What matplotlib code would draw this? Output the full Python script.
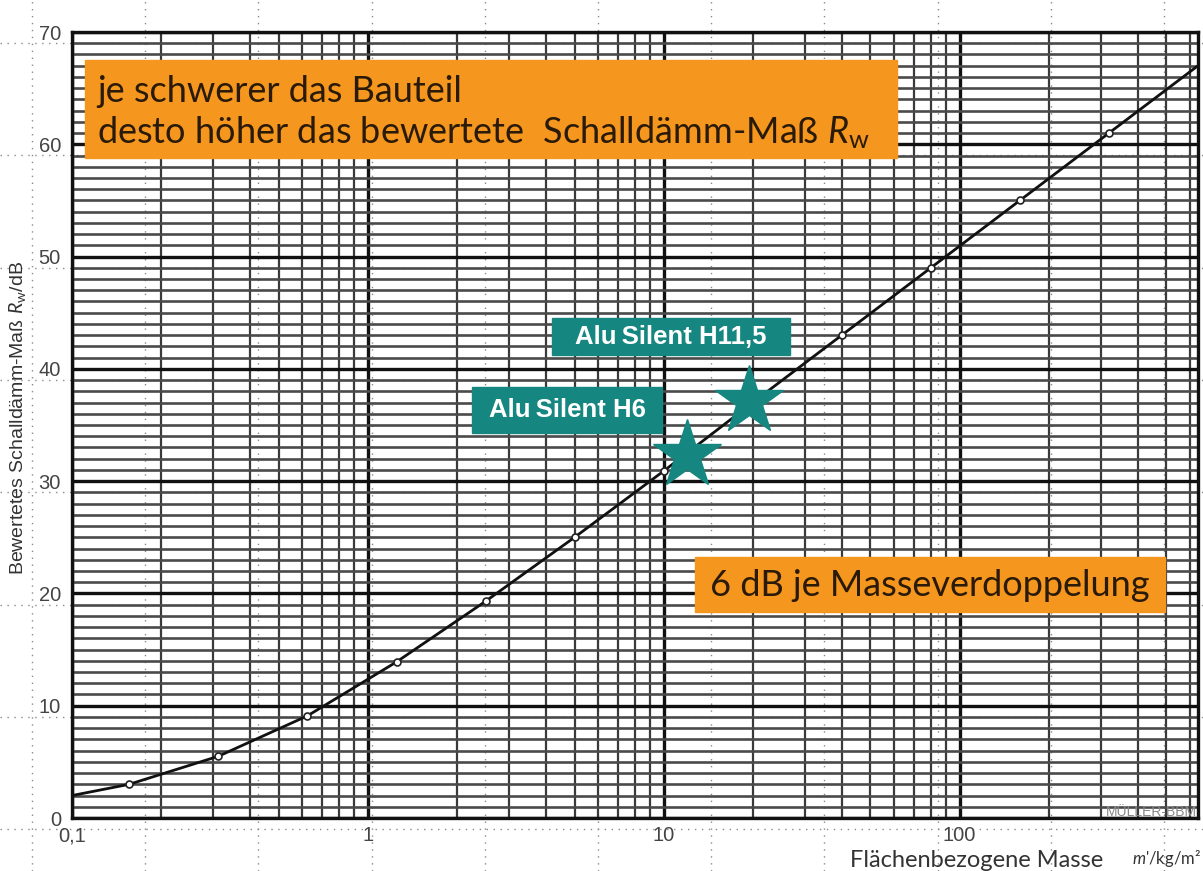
import numpy as np
import matplotlib
matplotlib.use("Agg")
import matplotlib.pyplot as plt
from matplotlib.patches import Rectangle
from matplotlib.lines import Line2D

# Kurve: flächenbezogene Masse m' (kg/m²) -> bewertetes Schalldämm-Maß Rw (dB)
masse = [0.1, 0.156, 0.3125, 0.625, 1.25, 2.5, 5, 10, 20, 40, 80, 160, 320, 640]
rw = [2.0, 3.0, 5.5, 9.1, 13.9, 19.3, 25.0, 30.9, 37.0, 43.0, 49.0, 55.0, 61.0, 67.0]
# Messpunkte (Kreise)
punkt_masse = masse[1:-1]
punkt_rw = rw[1:-1]

# Produkte
produkte = ["Alu\u2009Silent H6", "Alu\u2009Silent H11,5"]
produkt_masse = [12.0, 19.5]
produkt_rw = [32.3, 37.1]

y_ticks = [0, 10, 20, 30, 40, 50, 60, 70]
x_ticks = [0.1, 1, 10, 100]
x_ticklabels = ["0,1", "1", "10", "100"]

W, H = 1203, 871
ORANGE = "#f5961e"
TEAL = "#168680"
TXT = "#2a1a08"

plt.rcParams["mathtext.fontset"] = "custom"
plt.rcParams["mathtext.rm"] = "Lato"
plt.rcParams["mathtext.it"] = "Lato:italic"

fig = plt.figure(figsize=(W / 100, H / 100), dpi=100)


def fx(x):
    return x / W


def fy(y):
    return 1 - y / H


# gepunktetes Hintergrundraster (aus dem Screenshot)
for gx in np.arange(32, W, 113.2):
    fig.add_artist(Line2D([fx(gx), fx(gx)], [0, 1], color="#8a8a8a", lw=1.0,
                          ls=(0, (1, 4)), zorder=0))
for gy in np.arange(43, H, 112.3):
    fig.add_artist(Line2D([0, 1], [fy(gy), fy(gy)], color="#8a8a8a", lw=1.0,
                          ls=(0, (1, 4)), zorder=0))

ax = fig.add_axes([fx(72), fy(818), fx(1198) - fx(72), fy(32) - fy(818)])
ax.patch.set_alpha(0)
ax.set_xscale("log")
ax.set_xlim(0.1, 640)
ax.set_ylim(0, 70)

# Raster
for dec in [0.1, 1, 10, 100]:
    for k in range(1, 10):
        v = dec * k
        if v > 640:
            break
        if k == 1:
            ax.axvline(v, color="#111111", lw=2.4, zorder=1)
        else:
            ax.axvline(v, color="#3a3a3a", lw=1.6, zorder=1)
for v in range(0, 71):
    if v % 10 == 0:
        ax.axhline(v, color="#111111", lw=2.4, zorder=1)
    else:
        ax.axhline(v, color="#4a4a4a", lw=1.9, zorder=1)

for s in ax.spines.values():
    s.set_linewidth(2.4)
    s.set_color("#111111")

ax.plot(masse, rw, color="#111111", lw=2.0, zorder=3)
ax.plot(punkt_masse, punkt_rw, "o", ms=5, mfc="white", mec="#222222", mew=1.2, zorder=4)
ax.plot(produkt_masse, produkt_rw, "*", ms=52, color=TEAL, mec=TEAL, zorder=5)

ax.set_xticks(x_ticks)
ax.set_xticklabels(x_ticklabels)
ax.set_xticks([], minor=True)
ax.set_yticks(y_ticks)
ax.tick_params(length=0, labelsize=14.5, colors="#444444")
for lab in ax.get_xticklabels() + ax.get_yticklabels():
    lab.set_fontfamily("Liberation Sans")
ax.xaxis.set_tick_params(pad=6)
ax.yaxis.set_tick_params(pad=8)

# Achsentitel
fig.text(fx(18), fy(418), "Bewertetes Schalldämm-Maß $\\mathit{R}_\\mathrm{w}$/dB",
         rotation=90, ha="center", va="center", fontsize=14, color="#333333",
         family="Liberation Sans")
fig.text(fx(850), fy(860), "Flächenbezogene Masse", ha="left", va="center",
         fontsize=17, color="#333333", family="Lato")
fig.text(fx(1132), fy(858), "$m$'/kg/m²", ha="left", va="center",
         fontsize=12, color="#333333", family="Lato")
fig.text(fx(1197), fy(812), "MÜLLER-BBM", ha="right", va="center",
         fontsize=10, color="#888888", family="Liberation Sans")

# orange Hinweise
fig.add_artist(Rectangle((fx(85), fy(158)), fx(897) - fx(85), fy(60) - fy(158),
                         transform=fig.transFigure, color=ORANGE, zorder=6))
fig.text(fx(97), fy(91), "je schwerer das Bauteil", ha="left", va="center",
         fontsize=26, color=TXT, family="Lato", zorder=7)
fig.text(fx(97), fy(133), "desto höher das bewertete  Schalldämm-Maß $\\mathit{R}_\\mathrm{w}$",
         ha="left", va="center", fontsize=26, color=TXT, family="Lato", zorder=7)

fig.add_artist(Rectangle((fx(695), fy(612)), fx(1165) - fx(695), fy(557) - fy(612),
                         transform=fig.transFigure, color=ORANGE, zorder=6))
fig.text(fx(710), fy(585), "6 dB je Masseverdoppelung", ha="left", va="center",
         fontsize=26, color=TXT, family="Lato", zorder=7)

# Produktlabels
boxes = [(472, 387, 662, 433), (552, 318, 790, 355)]
for name, (x0, y0, x1, y1) in zip(produkte, boxes):
    fig.add_artist(Rectangle((fx(x0), fy(y1)), fx(x1) - fx(x0), fy(y0) - fy(y1),
                             transform=fig.transFigure, color=TEAL, zorder=6))
    fig.text(fx((x0 + x1) / 2), fy((y0 + y1) / 2), name, ha="center", va="center",
             fontsize=18.5, color="white", fontweight="bold",
             family=["Liberation Sans", "DejaVu Sans"], zorder=7)

fig.savefig("out.png", dpi=100)
